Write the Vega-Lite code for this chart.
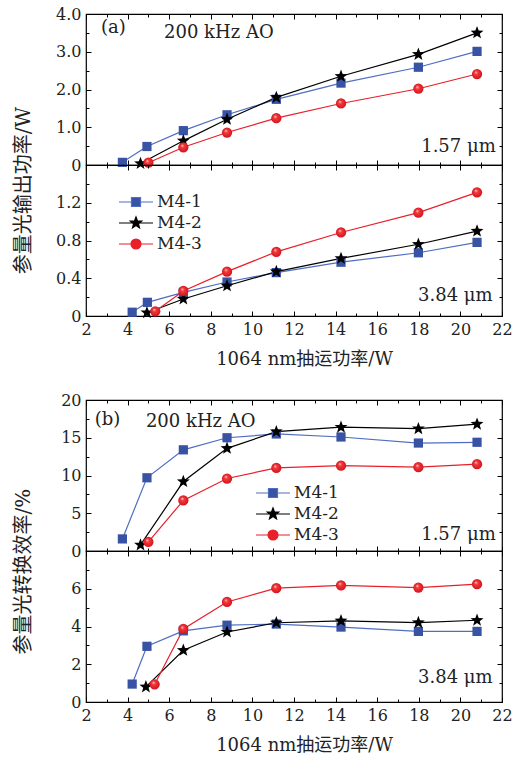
{
"$schema": "https://vega.github.io/schema/vega-lite/v6.json",
"padding": {"left": 12, "top": 5, "right": 5, "bottom": 5},
"background": "white",
"datasets": {"d": [
{"fig":"a","band":"1.57","series":"M4-1","pump":3.75,"val":0.07},
{"fig":"a","band":"1.57","series":"M4-1","pump":4.93,"val":0.49},
{"fig":"a","band":"1.57","series":"M4-1","pump":6.68,"val":0.91},
{"fig":"a","band":"1.57","series":"M4-1","pump":8.78,"val":1.33},
{"fig":"a","band":"1.57","series":"M4-1","pump":11.15,"val":1.74},
{"fig":"a","band":"1.57","series":"M4-1","pump":14.26,"val":2.17},
{"fig":"a","band":"1.57","series":"M4-1","pump":17.98,"val":2.59},
{"fig":"a","band":"1.57","series":"M4-1","pump":20.8,"val":3.01},
{"fig":"a","band":"1.57","series":"M4-2","pump":4.62,"val":0.04},
{"fig":"a","band":"1.57","series":"M4-2","pump":6.68,"val":0.64},
{"fig":"a","band":"1.57","series":"M4-2","pump":8.78,"val":1.21},
{"fig":"a","band":"1.57","series":"M4-2","pump":11.15,"val":1.79},
{"fig":"a","band":"1.57","series":"M4-2","pump":14.26,"val":2.35},
{"fig":"a","band":"1.57","series":"M4-2","pump":17.98,"val":2.93},
{"fig":"a","band":"1.57","series":"M4-2","pump":20.8,"val":3.5},
{"fig":"a","band":"1.57","series":"M4-3","pump":5.0,"val":0.06},
{"fig":"a","band":"1.57","series":"M4-3","pump":6.68,"val":0.47},
{"fig":"a","band":"1.57","series":"M4-3","pump":8.78,"val":0.86},
{"fig":"a","band":"1.57","series":"M4-3","pump":11.15,"val":1.24},
{"fig":"a","band":"1.57","series":"M4-3","pump":14.26,"val":1.63},
{"fig":"a","band":"1.57","series":"M4-3","pump":17.98,"val":2.02},
{"fig":"a","band":"1.57","series":"M4-3","pump":20.8,"val":2.41},
{"fig":"a","band":"3.84","series":"M4-1","pump":4.22,"val":0.04},
{"fig":"a","band":"3.84","series":"M4-1","pump":4.95,"val":0.145},
{"fig":"a","band":"3.84","series":"M4-1","pump":6.68,"val":0.25},
{"fig":"a","band":"3.84","series":"M4-1","pump":8.78,"val":0.36},
{"fig":"a","band":"3.84","series":"M4-1","pump":11.15,"val":0.46},
{"fig":"a","band":"3.84","series":"M4-1","pump":14.26,"val":0.57},
{"fig":"a","band":"3.84","series":"M4-1","pump":17.98,"val":0.67},
{"fig":"a","band":"3.84","series":"M4-1","pump":20.8,"val":0.78},
{"fig":"a","band":"3.84","series":"M4-2","pump":4.93,"val":0.035},
{"fig":"a","band":"3.84","series":"M4-2","pump":6.68,"val":0.18},
{"fig":"a","band":"3.84","series":"M4-2","pump":8.78,"val":0.32},
{"fig":"a","band":"3.84","series":"M4-2","pump":11.15,"val":0.47},
{"fig":"a","band":"3.84","series":"M4-2","pump":14.26,"val":0.61},
{"fig":"a","band":"3.84","series":"M4-2","pump":17.98,"val":0.76},
{"fig":"a","band":"3.84","series":"M4-2","pump":20.8,"val":0.9},
{"fig":"a","band":"3.84","series":"M4-3","pump":5.33,"val":0.05},
{"fig":"a","band":"3.84","series":"M4-3","pump":6.68,"val":0.265},
{"fig":"a","band":"3.84","series":"M4-3","pump":8.78,"val":0.47},
{"fig":"a","band":"3.84","series":"M4-3","pump":11.15,"val":0.68},
{"fig":"a","band":"3.84","series":"M4-3","pump":14.26,"val":0.885},
{"fig":"a","band":"3.84","series":"M4-3","pump":17.98,"val":1.095},
{"fig":"a","band":"3.84","series":"M4-3","pump":20.8,"val":1.31},
{"fig":"b","band":"1.57","series":"M4-1","pump":3.75,"val":1.6},
{"fig":"b","band":"1.57","series":"M4-1","pump":4.93,"val":9.7},
{"fig":"b","band":"1.57","series":"M4-1","pump":6.68,"val":13.4},
{"fig":"b","band":"1.57","series":"M4-1","pump":8.78,"val":15.0},
{"fig":"b","band":"1.57","series":"M4-1","pump":11.15,"val":15.5},
{"fig":"b","band":"1.57","series":"M4-1","pump":14.26,"val":15.1},
{"fig":"b","band":"1.57","series":"M4-1","pump":17.98,"val":14.3},
{"fig":"b","band":"1.57","series":"M4-1","pump":20.8,"val":14.4},
{"fig":"b","band":"1.57","series":"M4-2","pump":4.62,"val":0.8},
{"fig":"b","band":"1.57","series":"M4-2","pump":6.68,"val":9.2},
{"fig":"b","band":"1.57","series":"M4-2","pump":8.78,"val":13.6},
{"fig":"b","band":"1.57","series":"M4-2","pump":11.15,"val":15.8},
{"fig":"b","band":"1.57","series":"M4-2","pump":14.26,"val":16.4},
{"fig":"b","band":"1.57","series":"M4-2","pump":17.98,"val":16.2},
{"fig":"b","band":"1.57","series":"M4-2","pump":20.8,"val":16.8},
{"fig":"b","band":"1.57","series":"M4-3","pump":5.0,"val":1.2},
{"fig":"b","band":"1.57","series":"M4-3","pump":6.68,"val":6.7},
{"fig":"b","band":"1.57","series":"M4-3","pump":8.78,"val":9.6},
{"fig":"b","band":"1.57","series":"M4-3","pump":11.15,"val":11.0},
{"fig":"b","band":"1.57","series":"M4-3","pump":14.26,"val":11.3},
{"fig":"b","band":"1.57","series":"M4-3","pump":17.98,"val":11.1},
{"fig":"b","band":"1.57","series":"M4-3","pump":20.8,"val":11.5},
{"fig":"b","band":"3.84","series":"M4-1","pump":4.22,"val":0.95},
{"fig":"b","band":"3.84","series":"M4-1","pump":4.93,"val":2.95},
{"fig":"b","band":"3.84","series":"M4-1","pump":6.68,"val":3.77},
{"fig":"b","band":"3.84","series":"M4-1","pump":8.78,"val":4.07},
{"fig":"b","band":"3.84","series":"M4-1","pump":11.15,"val":4.13},
{"fig":"b","band":"3.84","series":"M4-1","pump":14.26,"val":3.97},
{"fig":"b","band":"3.84","series":"M4-1","pump":17.98,"val":3.74},
{"fig":"b","band":"3.84","series":"M4-1","pump":20.8,"val":3.74},
{"fig":"b","band":"3.84","series":"M4-2","pump":4.88,"val":0.8},
{"fig":"b","band":"3.84","series":"M4-2","pump":6.68,"val":2.74},
{"fig":"b","band":"3.84","series":"M4-2","pump":8.78,"val":3.71},
{"fig":"b","band":"3.84","series":"M4-2","pump":11.15,"val":4.2},
{"fig":"b","band":"3.84","series":"M4-2","pump":14.26,"val":4.3},
{"fig":"b","band":"3.84","series":"M4-2","pump":17.98,"val":4.21},
{"fig":"b","band":"3.84","series":"M4-2","pump":20.8,"val":4.33},
{"fig":"b","band":"3.84","series":"M4-3","pump":5.3,"val":0.94},
{"fig":"b","band":"3.84","series":"M4-3","pump":6.68,"val":3.87},
{"fig":"b","band":"3.84","series":"M4-3","pump":8.78,"val":5.3},
{"fig":"b","band":"3.84","series":"M4-3","pump":11.15,"val":6.03},
{"fig":"b","band":"3.84","series":"M4-3","pump":14.26,"val":6.18},
{"fig":"b","band":"3.84","series":"M4-3","pump":17.98,"val":6.06},
{"fig":"b","band":"3.84","series":"M4-3","pump":20.8,"val":6.24}
]},
"config": {
  "view": {"stroke": "#000000", "strokeWidth": 1.2},
  "axis": {"grid": false, "domain": false, "labelFont": "DejaVu Serif", "labelFontSize": 16, "labelColor": "#222222", "labelFlush": false, "labelOverlap": false, "tickColor": "#000000", "tickWidth": 1, "titleFont": "DejaVu Serif, Noto Sans CJK SC", "titleFontSize": 18, "titleFontWeight": "normal", "titleColor": "#222222"},
  "text": {"font": "DejaVu Serif", "fontSize": 18, "color": "#222222"}
},
"spacing": 22,
"vconcat": [
 {"spacing": 0, "bounds": "flush",
  "vconcat": [
  {"width": 416, "height": 151,
   "data": {"name": "d"},
   "transform": [{"filter": "datum.fig == 'a' && datum.band == '1.57'"}],
   "resolve": {"axis": {"x": "independent", "y": "independent"}},
   "layer": [
    {"mark": {"type": "line", "strokeWidth": 1.2},
     "encoding": {
      "x": {"field": "pump", "type": "quantitative", "scale": {"domain": [2, 22], "nice": false}, "axis": {"orient": "bottom", "values": [2,4,6,8,10,12,14,16,18,20,22], "tickSize": -5, "labels": false, "title": null}},
      "y": {"field": "val", "type": "quantitative", "scale": {"domain": [0, 4], "nice": false}, "axis": {"orient": "left", "values": [0,1,2,3,4], "tickSize": -5, "labelPadding": 10, "labelExpr": "datum.value == 0 ? '0' : format(datum.value, '.1f')", "title": "参量光输出功率/W", "titleFontSize": 20, "titleAngle": 270, "titleX": -63, "titleY": 176, "titleAlign": "center", "titleBaseline": "middle"}},
      "stroke": {"field": "series", "type": "nominal", "scale": {"domain": ["M4-1","M4-2","M4-3"], "range": ["#4f6ec2","#000000","#e8202a"]}, "legend": null}}},
    {"transform": [{"filter": "datum.series == 'M4-1'"}],
     "mark": {"type": "point", "shape": "square", "filled": true, "opacity": 1, "size": 85, "strokeWidth": 0, "fill": "#3953a4"},
     "encoding": {
      "x": {"field": "pump", "type": "quantitative", "axis": {"orient": "bottom", "values": [3,5,7,9,11,13,15,17,19,21], "tickSize": -3, "labels": false, "title": null}},
      "y": {"field": "val", "type": "quantitative", "axis": {"orient": "left", "values": [0.5,1.5,2.5,3.5], "tickSize": -3, "labels": false, "title": null}}}},
    {"transform": [{"filter": "datum.series == 'M4-2'"}],
     "mark": {"type": "point", "shape": "M0,-1.43L0.353,-0.486L1.36,-0.442L0.571,0.186L0.841,1.157L0,0.6L-0.841,1.157L-0.571,0.186L-1.36,-0.442L-0.353,-0.486Z", "filled": true, "opacity": 1, "size": 90, "strokeWidth": 0, "fill": "#000000"},
     "encoding": {
      "x": {"field": "pump", "type": "quantitative", "axis": {"orient": "top", "values": [3,5,7,9,11,13,15,17,19,21], "tickSize": -3, "labels": false, "title": null}},
      "y": {"field": "val", "type": "quantitative", "axis": {"orient": "right", "values": [0.5,1.5,2.5,3.5], "tickSize": -3, "labels": false, "title": null}}}},
    {"transform": [{"filter": "datum.series == 'M4-3'"}],
     "mark": {"type": "point", "shape": "circle", "filled": true, "opacity": 1, "size": 105, "strokeWidth": 0, "fill": {"gradient": "radial", "x1": 0.38, "y1": 0.32, "r1": 0, "x2": 0.5, "y2": 0.5, "r2": 0.55, "stops": [{"offset": 0, "color": "#ffd8d8"}, {"offset": 0.3, "color": "#f23a3a"}, {"offset": 1, "color": "#d0101c"}]}},
     "encoding": {
      "x": {"field": "pump", "type": "quantitative", "axis": {"orient": "top", "values": [2,4,6,8,10,12,14,16,18,20,22], "tickSize": -5, "labels": false, "title": null}},
      "y": {"field": "val", "type": "quantitative", "axis": {"orient": "right", "values": [0,1,2,3,4], "tickSize": -5, "labels": false, "title": null}}}},
    {"data": {"values": [{}]},
     "mark": {"type": "text", "align": "left", "baseline": "middle"},
     "encoding": {"x": {"datum": 2.72, "type": "quantitative", "axis": null}, "y": {"datum": 3.63, "type": "quantitative", "axis": null}, "text": {"value": "(a)"}}},
    {"data": {"values": [{}]},
     "mark": {"type": "text", "align": "left", "baseline": "middle"},
     "encoding": {"x": {"datum": 5.75, "type": "quantitative", "axis": null}, "y": {"datum": 3.5, "type": "quantitative", "axis": null}, "text": {"value": "200 kHz AO"}}},
    {"data": {"values": [{}]},
     "mark": {"type": "text", "align": "right", "baseline": "middle"},
     "encoding": {"x": {"datum": 21.7, "type": "quantitative", "axis": null}, "y": {"datum": 0.49, "type": "quantitative", "axis": null}, "text": {"value": "1.57 μm"}}}
   ]},
  {"width": 416, "height": 151,
   "data": {"name": "d"},
   "transform": [{"filter": "datum.fig == 'a' && datum.band == '3.84'"}],
   "resolve": {"axis": {"x": "independent", "y": "independent"}, "legend": {"fill": "independent", "stroke": "independent", "shape": "independent"}},
   "layer": [
    {"mark": {"type": "line", "strokeWidth": 1.2},
     "encoding": {
      "x": {"field": "pump", "type": "quantitative", "scale": {"domain": [2, 22], "nice": false}, "axis": {"orient": "bottom", "values": [2,4,6,8,10,12,14,16,18,20,22], "tickSize": -5, "labelPadding": 10, "title": "1064 nm抽运功率/W", "titlePadding": 13, "titleX": 218, "titleAlign": "center"}},
      "y": {"field": "val", "type": "quantitative", "scale": {"domain": [0, 1.6], "nice": false}, "axis": {"orient": "left", "values": [0,0.4,0.8,1.2,1.6], "tickSize": -5, "labelPadding": 10, "labelExpr": "datum.value == 0 ? '0' : datum.value > 1.5 ? '' : format(datum.value, '.1f')", "title": null}},
      "stroke": {"field": "series", "type": "nominal", "scale": {"domain": ["M4-1","M4-2","M4-3"], "range": ["#4f6ec2","#000000","#e8202a"]}, "legend": null}}},
    {"transform": [{"filter": "datum.series == 'M4-1'"}],
     "mark": {"type": "point", "shape": "square", "filled": true, "opacity": 1, "size": 85, "strokeWidth": 0, "fill": "#3953a4"},
     "encoding": {
      "x": {"field": "pump", "type": "quantitative", "axis": {"orient": "bottom", "values": [3,5,7,9,11,13,15,17,19,21], "tickSize": -3, "labels": false, "title": null}},
      "y": {"field": "val", "type": "quantitative", "axis": {"orient": "left", "values": [0.2,0.6,1.0,1.4], "tickSize": -3, "labels": false, "title": null}}}},
    {"transform": [{"filter": "datum.series == 'M4-2'"}],
     "mark": {"type": "point", "shape": "M0,-1.43L0.353,-0.486L1.36,-0.442L0.571,0.186L0.841,1.157L0,0.6L-0.841,1.157L-0.571,0.186L-1.36,-0.442L-0.353,-0.486Z", "filled": true, "opacity": 1, "size": 90, "strokeWidth": 0, "fill": "#000000"},
     "encoding": {
      "x": {"field": "pump", "type": "quantitative", "axis": {"orient": "top", "values": [3,5,7,9,11,13,15,17,19,21], "tickSize": -3, "labels": false, "title": null}},
      "y": {"field": "val", "type": "quantitative", "axis": {"orient": "right", "values": [0.2,0.6,1.0,1.4], "tickSize": -3, "labels": false, "title": null}}}},
    {"transform": [{"filter": "datum.series == 'M4-3'"}],
     "mark": {"type": "point", "shape": "circle", "filled": true, "opacity": 1, "size": 105, "strokeWidth": 0, "fill": {"gradient": "radial", "x1": 0.38, "y1": 0.32, "r1": 0, "x2": 0.5, "y2": 0.5, "r2": 0.55, "stops": [{"offset": 0, "color": "#ffd8d8"}, {"offset": 0.3, "color": "#f23a3a"}, {"offset": 1, "color": "#d0101c"}]}},
     "encoding": {
      "x": {"field": "pump", "type": "quantitative", "axis": {"orient": "top", "values": [2,4,6,8,10,12,14,16,18,20,22], "tickSize": -5, "labels": false, "title": null}},
      "y": {"field": "val", "type": "quantitative", "axis": {"orient": "right", "values": [0,0.4,0.8,1.2,1.6], "tickSize": -5, "labels": false, "title": null}}}},
    {"mark": {"type": "point", "filled": true, "opacity": 0},
     "encoding": {
      "x": {"field": "pump", "type": "quantitative", "axis": null},
      "y": {"field": "val", "type": "quantitative", "axis": null},
      "fill": {"field": "series", "type": "nominal", "scale": {"domain": ["M4-1","M4-2","M4-3"], "range": ["#3953a4","#000000","#e8202a"]},
       "legend": {"orient": "none", "legendX": 39, "legendY": 26, "title": null, "padding": 0, "symbolSize": 400, "symbolStrokeWidth": 1.2, "rowPadding": 2, "labelOffset": 10, "labelFont": "DejaVu Serif", "labelFontSize": 17, "labelColor": "#222222", "symbolOpacity": 1}},
      "stroke": {"field": "series", "type": "nominal", "scale": {"domain": ["M4-1","M4-2","M4-3"], "range": ["#4f6ec2","#000000","#e8202a"]},
       "legend": {"orient": "none", "legendX": 39, "legendY": 26, "title": null, "padding": 0, "symbolSize": 400, "symbolStrokeWidth": 1.2, "rowPadding": 2, "labelOffset": 10, "labelFont": "DejaVu Serif", "labelFontSize": 17, "labelColor": "#222222", "symbolOpacity": 1}},
      "shape": {"field": "series", "type": "nominal", "scale": {"domain": ["M4-1","M4-2","M4-3"], "range": ["M-1.7,0H-0.45M0.45,0H1.7M-0.45,-0.45H0.45V0.45H-0.45Z", "M-1.7,0H1.7M0,-0.6L0.148,-0.204L0.571,-0.185L0.24,0.078L0.353,0.485L0,0.252L-0.353,0.485L-0.24,0.078L-0.571,-0.185L-0.148,-0.204Z", "M-1.7,0H-0.5M0.5,0H1.7M0.5,0A0.5,0.5 0 1,1 -0.5,0A0.5,0.5 0 1,1 0.5,0Z"]},
       "legend": {"orient": "none", "legendX": 39, "legendY": 26, "title": null, "padding": 0, "symbolSize": 400, "symbolStrokeWidth": 1.2, "rowPadding": 2, "labelOffset": 10, "labelFont": "DejaVu Serif", "labelFontSize": 17, "labelColor": "#222222", "symbolOpacity": 1}}}},
    {"data": {"values": [{}]},
     "mark": {"type": "text", "align": "right", "baseline": "middle"},
     "encoding": {"x": {"datum": 21.55, "type": "quantitative", "axis": null}, "y": {"datum": 0.21, "type": "quantitative", "axis": null}, "text": {"value": "3.84 μm"}}}
   ]}
  ]},
 {"spacing": 0, "bounds": "flush",
  "vconcat": [
  {"width": 416, "height": 151,
   "data": {"name": "d"},
   "transform": [{"filter": "datum.fig == 'b' && datum.band == '1.57'"}],
   "resolve": {"axis": {"x": "independent", "y": "independent"}, "legend": {"fill": "independent", "stroke": "independent", "shape": "independent"}},
   "layer": [
    {"mark": {"type": "line", "strokeWidth": 1.2},
     "encoding": {
      "x": {"field": "pump", "type": "quantitative", "scale": {"domain": [2, 22], "nice": false}, "axis": {"orient": "bottom", "values": [2,4,6,8,10,12,14,16,18,20,22], "tickSize": -5, "labels": false, "title": null}},
      "y": {"field": "val", "type": "quantitative", "scale": {"domain": [0, 20], "nice": false}, "axis": {"orient": "left", "values": [0,5,10,15,20], "tickSize": -5, "labelPadding": 10, "title": "参量光转换效率/%", "titleFontSize": 20, "titleAngle": 270, "titleX": -63, "titleY": 171, "titleAlign": "center", "titleBaseline": "middle"}},
      "stroke": {"field": "series", "type": "nominal", "scale": {"domain": ["M4-1","M4-2","M4-3"], "range": ["#4f6ec2","#000000","#e8202a"]}, "legend": null}}},
    {"transform": [{"filter": "datum.series == 'M4-1'"}],
     "mark": {"type": "point", "shape": "square", "filled": true, "opacity": 1, "size": 85, "strokeWidth": 0, "fill": "#3953a4"},
     "encoding": {
      "x": {"field": "pump", "type": "quantitative", "axis": {"orient": "bottom", "values": [3,5,7,9,11,13,15,17,19,21], "tickSize": -3, "labels": false, "title": null}},
      "y": {"field": "val", "type": "quantitative", "axis": {"orient": "left", "values": [2.5,7.5,12.5,17.5], "tickSize": -3, "labels": false, "title": null}}}},
    {"transform": [{"filter": "datum.series == 'M4-2'"}],
     "mark": {"type": "point", "shape": "M0,-1.43L0.353,-0.486L1.36,-0.442L0.571,0.186L0.841,1.157L0,0.6L-0.841,1.157L-0.571,0.186L-1.36,-0.442L-0.353,-0.486Z", "filled": true, "opacity": 1, "size": 90, "strokeWidth": 0, "fill": "#000000"},
     "encoding": {
      "x": {"field": "pump", "type": "quantitative", "axis": {"orient": "top", "values": [3,5,7,9,11,13,15,17,19,21], "tickSize": -3, "labels": false, "title": null}},
      "y": {"field": "val", "type": "quantitative", "axis": {"orient": "right", "values": [2.5,7.5,12.5,17.5], "tickSize": -3, "labels": false, "title": null}}}},
    {"transform": [{"filter": "datum.series == 'M4-3'"}],
     "mark": {"type": "point", "shape": "circle", "filled": true, "opacity": 1, "size": 105, "strokeWidth": 0, "fill": {"gradient": "radial", "x1": 0.38, "y1": 0.32, "r1": 0, "x2": 0.5, "y2": 0.5, "r2": 0.55, "stops": [{"offset": 0, "color": "#ffd8d8"}, {"offset": 0.3, "color": "#f23a3a"}, {"offset": 1, "color": "#d0101c"}]}},
     "encoding": {
      "x": {"field": "pump", "type": "quantitative", "axis": {"orient": "top", "values": [2,4,6,8,10,12,14,16,18,20,22], "tickSize": -5, "labels": false, "title": null}},
      "y": {"field": "val", "type": "quantitative", "axis": {"orient": "right", "values": [0,5,10,15,20], "tickSize": -5, "labels": false, "title": null}}}},
    {"mark": {"type": "point", "filled": true, "opacity": 0},
     "encoding": {
      "x": {"field": "pump", "type": "quantitative", "axis": null},
      "y": {"field": "val", "type": "quantitative", "axis": null},
      "fill": {"field": "series", "type": "nominal", "scale": {"domain": ["M4-1","M4-2","M4-3"], "range": ["#3953a4","#000000","#e8202a"]},
       "legend": {"orient": "none", "legendX": 176, "legendY": 82, "title": null, "padding": 0, "symbolSize": 400, "symbolStrokeWidth": 1.2, "rowPadding": 2, "labelOffset": 10, "labelFont": "DejaVu Serif", "labelFontSize": 17, "labelColor": "#222222", "symbolOpacity": 1}},
      "stroke": {"field": "series", "type": "nominal", "scale": {"domain": ["M4-1","M4-2","M4-3"], "range": ["#4f6ec2","#000000","#e8202a"]},
       "legend": {"orient": "none", "legendX": 176, "legendY": 82, "title": null, "padding": 0, "symbolSize": 400, "symbolStrokeWidth": 1.2, "rowPadding": 2, "labelOffset": 10, "labelFont": "DejaVu Serif", "labelFontSize": 17, "labelColor": "#222222", "symbolOpacity": 1}},
      "shape": {"field": "series", "type": "nominal", "scale": {"domain": ["M4-1","M4-2","M4-3"], "range": ["M-1.7,0H-0.45M0.45,0H1.7M-0.45,-0.45H0.45V0.45H-0.45Z", "M-1.7,0H1.7M0,-0.6L0.148,-0.204L0.571,-0.185L0.24,0.078L0.353,0.485L0,0.252L-0.353,0.485L-0.24,0.078L-0.571,-0.185L-0.148,-0.204Z", "M-1.7,0H-0.5M0.5,0H1.7M0.5,0A0.5,0.5 0 1,1 -0.5,0A0.5,0.5 0 1,1 0.5,0Z"]},
       "legend": {"orient": "none", "legendX": 176, "legendY": 82, "title": null, "padding": 0, "symbolSize": 400, "symbolStrokeWidth": 1.2, "rowPadding": 2, "labelOffset": 10, "labelFont": "DejaVu Serif", "labelFontSize": 17, "labelColor": "#222222", "symbolOpacity": 1}}}},
    {"data": {"values": [{}]},
     "mark": {"type": "text", "align": "left", "baseline": "middle"},
     "encoding": {"x": {"datum": 2.42, "type": "quantitative", "axis": null}, "y": {"datum": 17.4, "type": "quantitative", "axis": null}, "text": {"value": "(b)"}}},
    {"data": {"values": [{}]},
     "mark": {"type": "text", "align": "left", "baseline": "middle"},
     "encoding": {"x": {"datum": 4.88, "type": "quantitative", "axis": null}, "y": {"datum": 17.1, "type": "quantitative", "axis": null}, "text": {"value": "200 kHz AO"}}},
    {"data": {"values": [{}]},
     "mark": {"type": "text", "align": "right", "baseline": "middle"},
     "encoding": {"x": {"datum": 21.7, "type": "quantitative", "axis": null}, "y": {"datum": 2.1, "type": "quantitative", "axis": null}, "text": {"value": "1.57 μm"}}}
   ]},
  {"width": 416, "height": 151,
   "data": {"name": "d"},
   "transform": [{"filter": "datum.fig == 'b' && datum.band == '3.84'"}],
   "resolve": {"axis": {"x": "independent", "y": "independent"}},
   "layer": [
    {"mark": {"type": "line", "strokeWidth": 1.2},
     "encoding": {
      "x": {"field": "pump", "type": "quantitative", "scale": {"domain": [2, 22], "nice": false}, "axis": {"orient": "bottom", "values": [2,4,6,8,10,12,14,16,18,20,22], "tickSize": -5, "labelPadding": 10, "title": "1064 nm抽运功率/W", "titlePadding": 13, "titleX": 218, "titleAlign": "center"}},
      "y": {"field": "val", "type": "quantitative", "scale": {"domain": [0, 8], "nice": false}, "axis": {"orient": "left", "values": [0,2,4,6,8], "tickSize": -5, "labelPadding": 10, "labelExpr": "datum.value == 8 ? '' : datum.label", "title": null}},
      "stroke": {"field": "series", "type": "nominal", "scale": {"domain": ["M4-1","M4-2","M4-3"], "range": ["#4f6ec2","#000000","#e8202a"]}, "legend": null}}},
    {"transform": [{"filter": "datum.series == 'M4-1'"}],
     "mark": {"type": "point", "shape": "square", "filled": true, "opacity": 1, "size": 85, "strokeWidth": 0, "fill": "#3953a4"},
     "encoding": {
      "x": {"field": "pump", "type": "quantitative", "axis": {"orient": "bottom", "values": [3,5,7,9,11,13,15,17,19,21], "tickSize": -3, "labels": false, "title": null}},
      "y": {"field": "val", "type": "quantitative", "axis": {"orient": "left", "values": [1,3,5,7], "tickSize": -3, "labels": false, "title": null}}}},
    {"transform": [{"filter": "datum.series == 'M4-2'"}],
     "mark": {"type": "point", "shape": "M0,-1.43L0.353,-0.486L1.36,-0.442L0.571,0.186L0.841,1.157L0,0.6L-0.841,1.157L-0.571,0.186L-1.36,-0.442L-0.353,-0.486Z", "filled": true, "opacity": 1, "size": 90, "strokeWidth": 0, "fill": "#000000"},
     "encoding": {
      "x": {"field": "pump", "type": "quantitative", "axis": {"orient": "top", "values": [3,5,7,9,11,13,15,17,19,21], "tickSize": -3, "labels": false, "title": null}},
      "y": {"field": "val", "type": "quantitative", "axis": {"orient": "right", "values": [1,3,5,7], "tickSize": -3, "labels": false, "title": null}}}},
    {"transform": [{"filter": "datum.series == 'M4-3'"}],
     "mark": {"type": "point", "shape": "circle", "filled": true, "opacity": 1, "size": 105, "strokeWidth": 0, "fill": {"gradient": "radial", "x1": 0.38, "y1": 0.32, "r1": 0, "x2": 0.5, "y2": 0.5, "r2": 0.55, "stops": [{"offset": 0, "color": "#ffd8d8"}, {"offset": 0.3, "color": "#f23a3a"}, {"offset": 1, "color": "#d0101c"}]}},
     "encoding": {
      "x": {"field": "pump", "type": "quantitative", "axis": {"orient": "top", "values": [2,4,6,8,10,12,14,16,18,20,22], "tickSize": -5, "labels": false, "title": null}},
      "y": {"field": "val", "type": "quantitative", "axis": {"orient": "right", "values": [0,2,4,6,8], "tickSize": -5, "labels": false, "title": null}}}},
    {"data": {"values": [{}]},
     "mark": {"type": "text", "align": "right", "baseline": "middle"},
     "encoding": {"x": {"datum": 21.55, "type": "quantitative", "axis": null}, "y": {"datum": 1.27, "type": "quantitative", "axis": null}, "text": {"value": "3.84 μm"}}}
   ]}
  ]}
]
}
